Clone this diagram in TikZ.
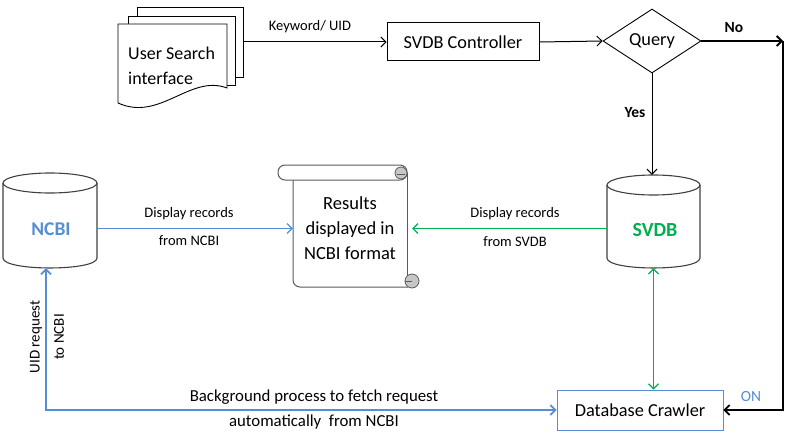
\documentclass[tikz,border=0pt]{standalone}
\usepackage{fontspec}
\setmainfont{Carlito}
\usetikzlibrary{arrows.meta,shapes.geometric,calc}
\definecolor{ublue}{RGB}{85,142,213}
\definecolor{ugreen}{RGB}{0,176,80}
\definecolor{cyledge}{RGB}{64,64,64}
\definecolor{scrolledge}{RGB}{90,90,90}
\begin{document}
\begin{tikzpicture}[x=1pt,y=-1pt,
  arr/.style={-{Straight Barb[length=5pt,width=10pt]}},
  darr/.style={{Straight Barb[length=5pt,width=10pt]}-{Straight Barb[length=5pt,width=10pt]}},
  lbl/.style={font=\fontsize{14.5}{16}\selectfont},
  mainlbl/.style={font=\fontsize{18.3}{21}\selectfont},
  ghost/.style={inner sep=0pt, draw=none},
  cyl/.style={draw=cyledge, line width=1.1pt},
  page/.style={draw=black, fill=white, line width=0.9pt}]
\useasboundingbox (0,0) rectangle (793,436);

% --- User search interface (multi-document)
\filldraw[page] (137,7) rectangle (243,77);
\filldraw[page] (128,16) rectangle (235,85);
\filldraw[page] (118,24) -- (227,24) -- (227,88) .. controls (190,74) and (160,122) .. (118,103) -- cycle;
\node[ghost, minimum width=106pt, minimum height=70pt] (usi) at (190,42) {};
\node[anchor=west, align=left, inner sep=0pt, font=\fontsize{18}{25}\selectfont] (usitext) at (128,66) {User Search\\interface};

% --- controller and decision
\node[draw, line width=1pt, mainlbl, minimum width=152pt, minimum height=38pt] (ctrl) at (463,42) {SVDB Controller};
\node[draw, diamond, line width=0.9pt, mainlbl, inner sep=0pt, minimum width=98pt, minimum height=64pt] (q) at (652,41) {Query};

% --- cylinders
\node[ghost, minimum width=94pt, minimum height=95pt] (ncbi) at (50,220.5) {};
\draw[cyl] (50,183) ellipse [x radius=47, y radius=10];
\draw[cyl] (3,183) -- (3,258) .. controls (3,271.3) and (97,271.3) .. (97,258) -- (97,183);
\node[font=\fontsize{19.5}{22}\selectfont\bfseries, text=ublue] (ncbitext) at (51,229) {NCBI};

\node[ghost, minimum width=93pt, minimum height=93pt] (svdb) at (653.5,221.5) {};
\draw[cyl] (653.5,185) ellipse [x radius=46.5, y radius=10];
\draw[cyl] (607,185) -- (607,258) .. controls (607,271.3) and (700,271.3) .. (700,258) -- (700,185);
\node[font=\fontsize{20}{22}\selectfont\bfseries, text=ugreen] (svdbtext) at (655,230) {SVDB};

% --- results scroll
\node[ghost, minimum width=115pt, minimum height=107pt] (scroll) at (350.5,233.5) {};
\draw[scrolledge, line width=1pt, rounded corners=7pt] (278,165) rectangle (407,180);
\draw[scrolledge, line width=1pt] (293,180) [rounded corners=7pt]-- (293,287) [sharp corners]-- (408,287);
\draw[scrolledge, line width=1pt] (407,173) -- (407,281);
\filldraw[draw=scrolledge, fill=gray!45, line width=0.8pt] (401,173) circle (6pt);
\draw[scrolledge, line width=0.8pt] (397,174) -- (405,174);
\filldraw[draw=scrolledge, fill=gray!45, line width=0.8pt] (412,281) circle (7pt);
\draw[scrolledge, line width=0.8pt] (405,281) -- (412,281);
\node[align=center, inner sep=0pt, font=\fontsize{18.5}{25}\selectfont] (res) at (350,228) {Results\\displayed in\\NCBI format};

% --- crawler
\node[draw=ublue, line width=0.8pt, mainlbl, minimum width=166pt, minimum height=40pt] (crawl) at (640,410) {Database Crawler};

% --- connectors
\draw[arr, line width=1pt] (usi.east) -- (ctrl.west);
\node[lbl] (kw) at (310,27) {Keyword/ UID};
\draw[arr, line width=1pt] (ctrl.east) -- (q.west);

\coordinate (nocorner) at (783,41);
\draw[arr, line width=1.8pt] (q.east) -- (nocorner);
\draw[arr, line width=1.8pt] (nocorner) |- (crawl.east);
\node[font=\fontsize{15.5}{17}\selectfont\bfseries] (nolbl) at (734,28) {No};

\draw[arr, line width=1pt] (q.south) -- (q.south |- svdb.north);
\node[font=\fontsize{15.5}{17}\selectfont\bfseries] (yeslbl) at (635,113) {Yes};

\coordinate (nE) at ($(ncbi.east)+(0,8)$);
\draw[arr, ublue, line width=1.1pt] (nE) -- (nE -| scroll.west);
\node[lbl] (d1a) at (189,214) {Display records};
\node[lbl] (d1b) at (189,241) {from NCBI};

\coordinate (sW) at ($(svdb.west)+(0,7)$);
\coordinate (sT) at ($(sW -| scroll.east)+(4,0)$);
\draw[arr, ugreen, line width=1.1pt] (sW) -- (sT);
\node[lbl] (d2a) at (515,214) {Display records};
\node[lbl] (d2b) at (515,242) {from SVDB};

\draw[darr, ugreen, line width=1.2pt] (svdb.south) -- (svdb.south |- crawl.north);

\coordinate (nS) at ($(ncbi.south)+(-4,0)$);
\draw[darr, ublue, line width=1.8pt] (nS) |- (crawl.west);
\node[font=\fontsize{15}{17}\selectfont, rotate=90] (uid1) at (36,337) {UID request};
\node[font=\fontsize{15}{17}\selectfont, rotate=90] (uid2) at (59,337) {to NCBI};
\node[font=\fontsize{16.8}{18}\selectfont] (bg1) at (314,397) {Background process to fetch request};
\node[font=\fontsize{16.8}{18}\selectfont] (bg2) at (314,422) {automatically\ \ from NCBI};
\node[font=\fontsize{15.5}{17}\selectfont, text=ublue] (onlbl) at (751,397) {ON};
\end{tikzpicture}
\end{document}
